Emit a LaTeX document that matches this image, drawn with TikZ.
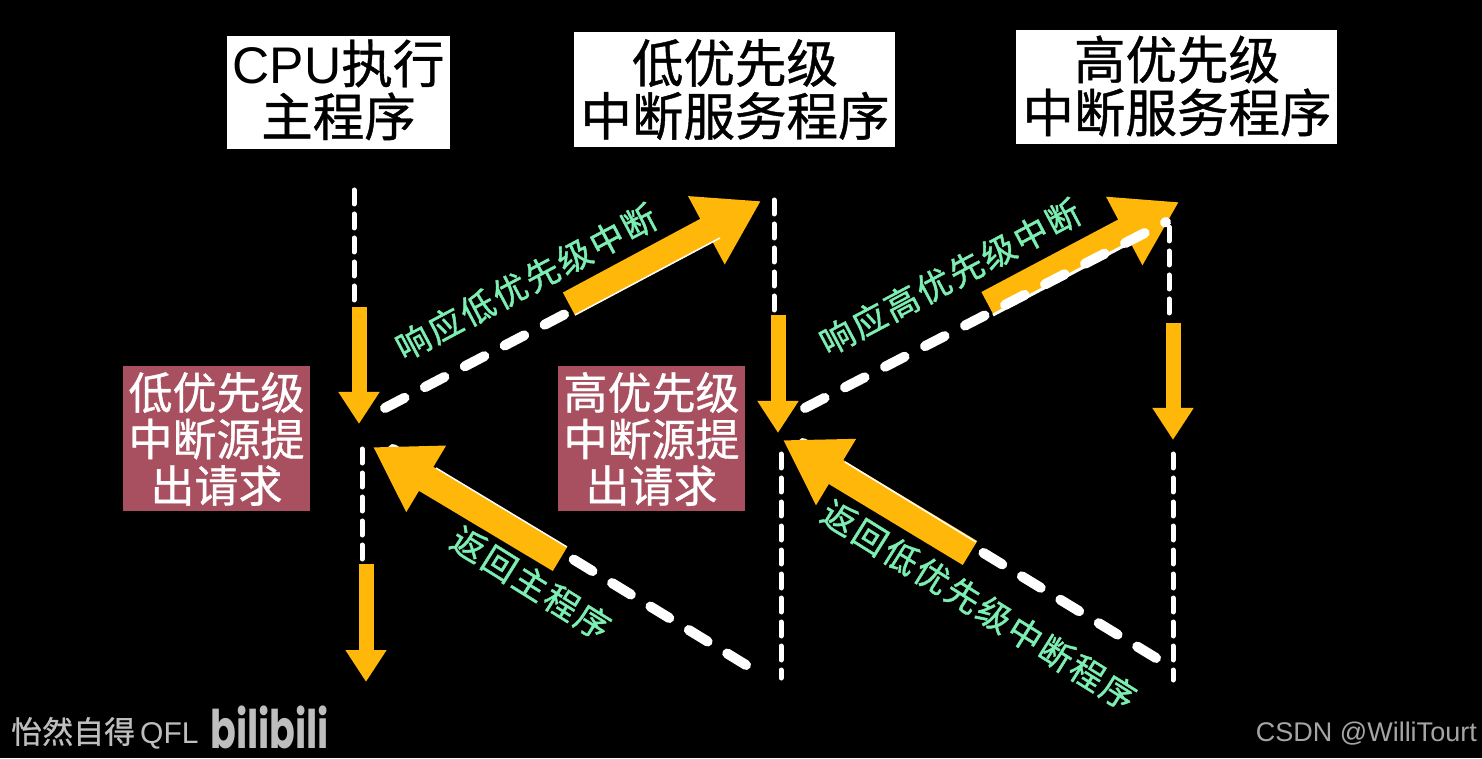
\documentclass[tikz,border=0pt]{standalone}
\usepackage{xcolor}
\usepackage{fontspec}
\setmainfont{Liberation Sans}
\newfontfamily\cjk[FakeBold=0.8]{Noto Sans CJK SC}
\newfontfamily\cjklbl[LetterSpace=7.5,FakeBold=1.2]{Noto Sans CJK SC}
\newfontfamily\logofont{Poppins}
\usetikzlibrary{arrows.meta}
\definecolor{flow}{RGB}{255,184,10}
\definecolor{reqred}{RGB}{168,80,95}
\definecolor{mint}{RGB}{125,238,178}
\definecolor{wmark}{RGB}{190,190,190}
\definecolor{csdngray}{RGB}{165,165,165}
\begin{document}
\begin{tikzpicture}[x=1pt,y=1pt,
  box/.style={fill=white,text=black,align=center,inner sep=0pt,text depth=0pt},
  boxt/.style={text=black,align=center,inner sep=0pt,font=\fontsize{51.5}{53}\selectfont\cjk},
  req/.style={fill=reqred,text=white,align=center,inner sep=0pt,minimum width=187pt,minimum height=145pt,
    font=\fontsize{44}{46.5}\selectfont\cjk},
  ed/.style={-{Triangle[length=62pt,width=73pt]},line width=26pt,flow},
  edr/.style={ed,line width=28pt},
  edv/.style={-{Triangle[length=32pt,width=39pt]},line width=15pt,flow},
  dsh/.style={white,line width=10pt,line cap=round,dash pattern=on 22pt off 23pt},
  dshv/.style={white,line width=5pt,line cap=round,dash pattern=on 14pt off 10pt},
  rim/.style={white,line width=1.5pt},
  lbl/.style={text=mint,inner sep=0pt,font=\fontsize{34}{34}\selectfont\cjklbl}]
\fill[black] (0,0) rectangle (1482,758);
\node[box,minimum width=223pt,minimum height=113pt] (cpu) at (338.5,665.5) {};
\node[box,minimum width=321pt,minimum height=115pt] (low) at (734.5,668.5) {};
\node[box,minimum width=321pt,minimum height=114pt] (high) at (1176.5,671) {};
\node[boxt] (cput) at (338.5,668) {{\rmfamily CPU}执行\\主程序};
\node[boxt] (lowt) at (735,668.5) {低优先级\\中断服务程序};
\node[boxt] (hight) at (1177,672) {高优先级\\中断服务程序};
\node[req] (reql) at (216.5,319) {低优先级\\中断源提\\出请求};
\node[req] (reqh) at (651.5,319) {高优先级\\中断源提\\出请求};
\coordinate (m1) at (354,568); \coordinate (m2) at (354,455);
\coordinate (m3) at (359,451); \coordinate (m4) at (359,334);
\coordinate (m5) at (362,309); \coordinate (m6) at (362,198);
\coordinate (m7) at (366,194); \coordinate (m8) at (366,76);
\coordinate (l1) at (774,558); \coordinate (l2) at (774,445);
\coordinate (l3) at (778,443); \coordinate (l4) at (778,325);
\coordinate (l5) at (781,304); \coordinate (l6) at (781,80);
\coordinate (h1) at (1169,531); \coordinate (h2) at (1169,440);
\coordinate (h3) at (1173,435); \coordinate (h4) at (1173,318);
\coordinate (h5) at (1173,304); \coordinate (h6) at (1173,78);
\coordinate (up1) at (385,350); \coordinate (up2) at (567,445);
\coordinate (up3) at (569,454); \coordinate (up4) at (761,557);
\coordinate (up5) at (805,350); \coordinate (up6) at (1166,536);
\coordinate (up7) at (987.5,454.5); \coordinate (up8) at (1179,556);
\coordinate (dn1) at (746,93); \coordinate (dn2) at (393,309);
\coordinate (dn3) at (560,199); \coordinate (dn4) at (373,311);
\coordinate (dn5) at (1156,100); \coordinate (dn6) at (803,315);
\coordinate (dn7) at (970,205); \coordinate (dn8) at (783,318);
\coordinate (e1) at (575,443); \coordinate (e2) at (720,520);
\coordinate (e3) at (993,443); \coordinate (e4) at (1135,518);
\coordinate (e5) at (567,211); \coordinate (e6) at (436,290);
\coordinate (e7) at (976,216); \coordinate (e8) at (845,296);
\draw[dshv] (m1) -- (m2);
\draw[edv] (m3) -- (m4);
\draw[dshv] (m5) -- (m6);
\draw[edv] (m7) -- (m8);
\draw[dshv] (l1) -- (l2);
\draw[edv] (l3) -- (l4);
\draw[dshv] (l5) -- (l6);
\draw[dshv] (h1) -- (h2);
\draw[edv] (h3) -- (h4);
\draw[dshv] (h5) -- (h6);
\draw[dsh] (up1) -- (up2);
\draw[ed] (up3) -- (up4);
\draw[rim] (e1) -- (e2);
\draw[ed] (up7) -- (up8);
\draw[dsh] (up5) -- (up6);
\draw[rim,line width=3pt] (e3) -- (e4);
\draw[dsh] (dn1) -- (dn2);
\draw[edr] (dn3) -- (dn4);
\draw[rim] (e5) -- (e6);
\draw[dsh] (dn5) -- (dn6);
\draw[edr] (dn7) -- (dn8);
\draw[rim] (e7) -- (e8);
\node[lbl,rotate=28] (t1) at (526,476) {响应低优先级中断};
\node[lbl,rotate=28] (t2) at (950,481) {响应高优先级中断};
\node[lbl,rotate=-32] (t3) at (531,175) {返回主程序};
\node[lbl,rotate=-32] (t4) at (979,153) {返回低优先级中断程序};
\node[text=wmark,inner sep=0pt,anchor=west,font=\fontsize{31}{31}\selectfont\cjk] (wm) at (11,25) {怡然自得{\rmfamily\fontsize{30}{30}\selectfont\,QFL}};
\node[text=wmark,inner sep=0pt,anchor=west,yscale=1.4,font=\fontsize{38}{38}\selectfont\logofont\bfseries] (bili) at (210,31) {bilibili};
\node[text=csdngray,inner sep=0pt,anchor=east,font=\fontsize{27}{27}\selectfont] (csdn) at (1477,24.5) {CSDN @WilliTourt};
\end{tikzpicture}
\end{document}
